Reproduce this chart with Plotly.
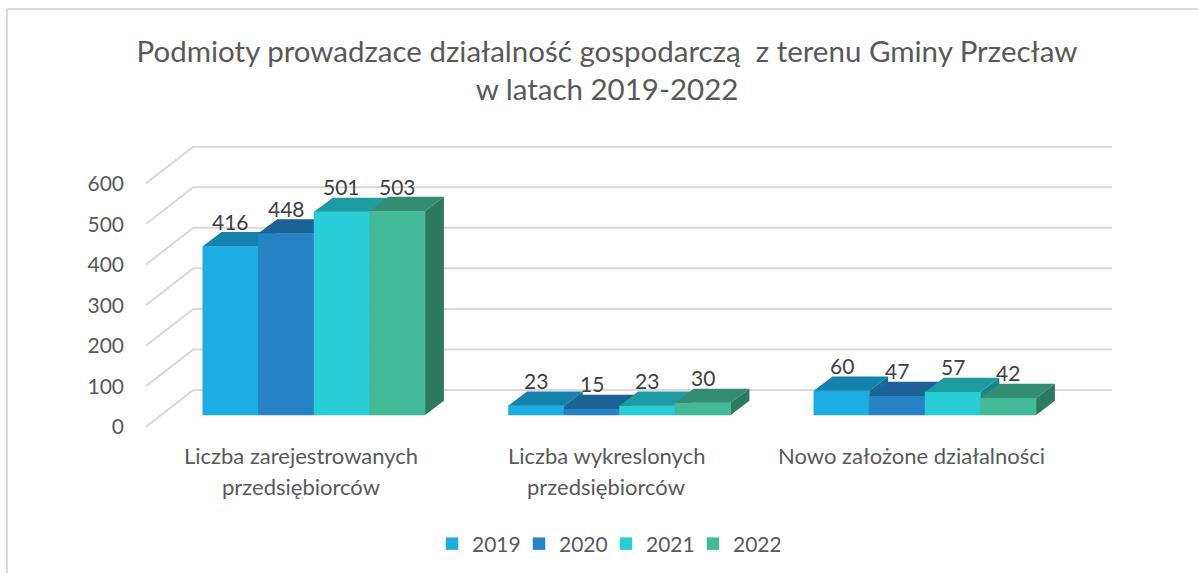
import plotly.graph_objects as go

title_text = "Podmioty prowadzace działalność gospodarczą&nbsp; z terenu Gminy Przecław<br>w latach 2019-2022"
categories = [["Liczba zarejestrowanych", "przedsiębiorców"],
              ["Liczba wykreslonych", "przedsiębiorców"],
              ["Nowo założone działalności"]]
years = ["2019", "2020", "2021", "2022"]
v2019 = [416, 23, 60]
v2020 = [448, 15, 47]
v2021 = [501, 23, 57]
v2022 = [503, 30, 42]
series = [v2019, v2020, v2021, v2022]
y_ticks = [0, 100, 200, 300, 400, 500, 600]
front_colors = ["#1CADE4", "#2683C6", "#27CED7", "#42BA97"]
top_colors = ["#1581AD", "#1D6295", "#1D9BA1", "#338D73"]
side_colors = ["#127097", "#195581", "#19868B", "#2B7A60"]
FONT = "Lato"
GREY = "#595959"
DARK = "#404040"
GRID = "#D9D9D9"

W, H = 1198, 573
PL = 125                 # plot-area left margin, px
GROUP_PX = 305.5         # px per category
X0_PX = 314.0            # px of first category centre
PX_PER_VAL = 0.4055      # px per unit value
BAR_BASE_PX = 415.0      # px of value 0 at the bars' front
WALL_ZERO_PX = 427.0     # px of value 0 for axis labels

def ux(px): return px / GROUP_PX
def uy(px): return px / PX_PER_VAL

x_range = [(PL - X0_PX) / GROUP_PX, (W - X0_PX) / GROUP_PX]
y_range_labels = [-(H - WALL_ZERO_PX) / PX_PER_VAL, WALL_ZERO_PX / PX_PER_VAL]
y_range_bars = [-(H - BAR_BASE_PX) / PX_PER_VAL, BAR_BASE_PX / PX_PER_VAL]

bar_w = ux(55.6)
dx, dy = ux(18.7), uy(14.2)

fig = go.Figure()

# walls / gridlines on the base axes
gx, gy = [], []
for t in y_ticks:
    gx += [ux(146 - X0_PX), ux(193.3 - X0_PX), ux(1112 - X0_PX), None]
    gy += [t + uy(WALL_ZERO_PX - 426.7), t + uy(WALL_ZERO_PX - 390), t + uy(WALL_ZERO_PX - 390), None]
fig.add_trace(go.Scatter(x=gx, y=gy, mode="lines", line=dict(color=GRID, width=2),
                         hoverinfo="skip", showlegend=False))

# one overlaid axis pair per series so later bars paint over earlier ones
for k, (vals, name) in enumerate(zip(series, years)):
    ax = str(k + 2)
    xa, ya = "x" + ax, "y" + ax
    off = (k - 2) * bar_w
    fig.add_trace(go.Bar(x=[0, 1, 2], y=vals, name=name, xaxis=xa, yaxis=ya,
                         width=bar_w, offset=off,
                         marker=dict(color=front_colors[k], line=dict(color=front_colors[k], width=0.5))))
    tx, ty, sx, sy = [], [], [], []
    for i, v in enumerate(vals):
        L, R = i + off, i + off + bar_w
        tx += [L, R, R + dx, L + dx, L, None]
        ty += [v, v, v + dy, v + dy, v, None]
        sx += [R, R + dx, R + dx, R, R, None]
        sy += [v, v + dy, dy, 0, v, None]
    fig.add_trace(go.Scatter(x=tx, y=ty, mode="lines", fill="toself", fillcolor=top_colors[k],
                             line=dict(width=0, color=top_colors[k]), xaxis=xa, yaxis=ya,
                             hoverinfo="skip", showlegend=False))
    fig.add_trace(go.Scatter(x=sx, y=sy, mode="lines", fill="toself", fillcolor=side_colors[k],
                             line=dict(width=0, color=side_colors[k]), xaxis=xa, yaxis=ya,
                             hoverinfo="skip", showlegend=False))

annotations = []
for k, vals in enumerate(series):
    for i, v in enumerate(vals):
        annotations.append(dict(x=i + (k - 2) * bar_w + bar_w / 2, y=v + uy(25),
                                xref="x2", yref="y2", text=str(v), showarrow=False,
                                font=dict(family=FONT, size=21, color=DARK),
                                xanchor="center", yanchor="middle"))

paper_x = lambda px: (px - PL) / (W - PL)
paper_y = lambda px: 1 - px / H

for i, lines in enumerate(categories):
    for j, line in enumerate(lines):
        annotations.append(dict(x=i + ux(-13.5), y=paper_y(455 + 31 * j),
                                xref="x", yref="paper", text=line, showarrow=False,
                                font=dict(family=FONT, size=22, color=GREY),
                                xanchor="center", yanchor="middle"))

layout = dict(
    width=W, height=H, autosize=False,
    paper_bgcolor="white", plot_bgcolor="rgba(0,0,0,0)",
    margin=dict(l=PL, r=0, t=0, b=0),
    title=dict(text=title_text, x=607 / W, xanchor="center", xref="container",
               y=1 - 62 / H, yanchor="top", yref="container",
               font=dict(family=FONT, size=29.5, color=GREY)),
    barmode="overlay",
    annotations=annotations,
    legend=dict(orientation="h", x=paper_x(432), xanchor="left", y=paper_y(544), yanchor="middle",
                font=dict(family=FONT, size=21, color=GREY), entrywidth=42, entrywidthmode="pixels",
                tracegroupgap=0, bgcolor="rgba(0,0,0,0)"),
    shapes=[dict(type="line", xref="paper", yref="paper", x0=paper_x(7), x1=paper_x(7),
                 y0=paper_y(9), y1=paper_y(573), line=dict(color=GRID, width=2)),
            dict(type="line", xref="paper", yref="paper", x0=paper_x(7), x1=paper_x(1198),
                 y0=paper_y(9), y1=paper_y(9), line=dict(color=GRID, width=2))],
    xaxis=dict(range=x_range, visible=False, fixedrange=True),
    yaxis=dict(range=y_range_labels, tickmode="array", tickvals=y_ticks,
               ticktext=[str(t) for t in y_ticks], showgrid=False, zeroline=False,
               showline=False, ticks="", fixedrange=True,
               tickfont=dict(family=FONT, size=21, color=GREY)),
)
for k in range(4):
    ax = str(k + 2)
    layout["xaxis" + ax] = dict(range=x_range, overlaying="x", visible=False, fixedrange=True)
    layout["yaxis" + ax] = dict(range=y_range_bars, overlaying="y", visible=False, fixedrange=True)
fig.update_layout(**layout)
fig.write_html("out.html", config=dict(displayModeBar=False),
               post_script="document.body.style.margin='0';document.documentElement.style.overflow='hidden';")
